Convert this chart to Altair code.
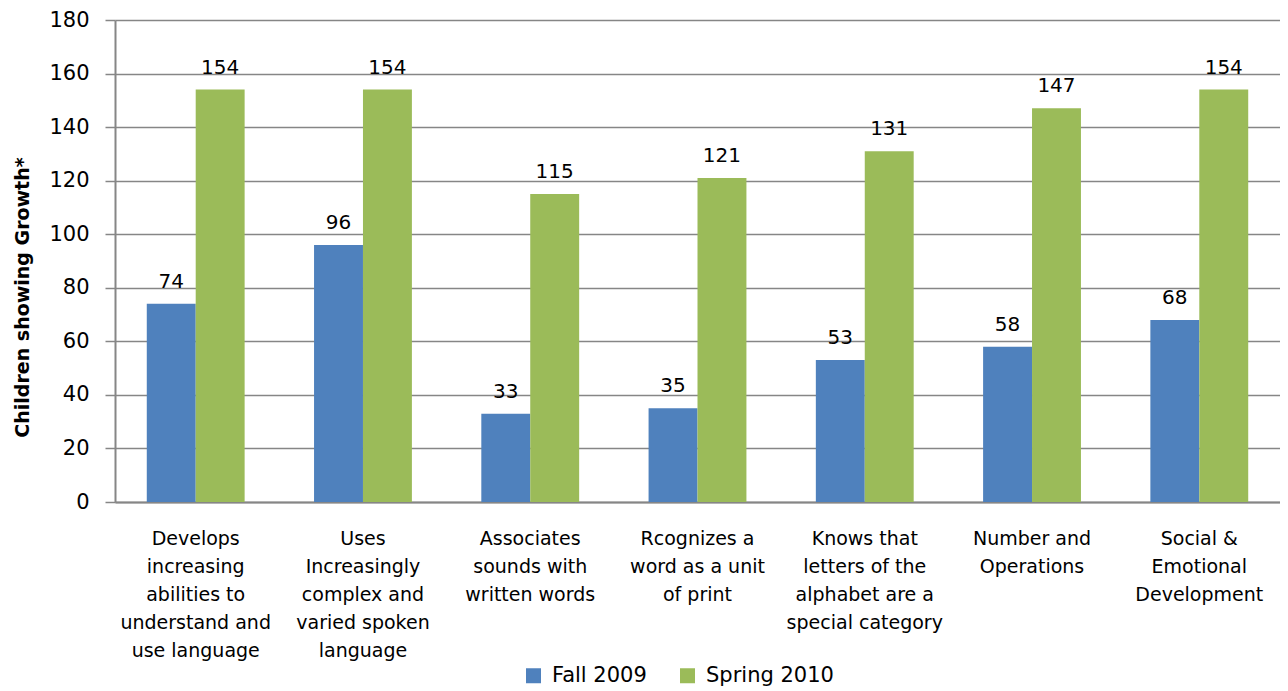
import altair as alt
import pandas as pd

categories = [
    "Develops|increasing|abilities to|understand and|use language",
    "Uses|Increasingly|complex and|varied spoken|language",
    "Associates|sounds with|written words",
    "Rcognizes a|word as a  unit|of print",
    "Knows that|letters of the|alphabet are a|special category",
    "Number and|Operations",
    "Social &|Emotional|Development",
]
series = ["Fall 2009", "Spring 2010"]
fall_2009 = [74, 96, 33, 35, 53, 58, 68]
spring_2010 = [154, 154, 115, 121, 131, 147, 154]
colors = ["#4F81BD", "#9BBB59"]

rows = []
for c, f, s in zip(categories, fall_2009, spring_2010):
    rows.append({"category": c, "series": series[0], "value": f})
    rows.append({"category": c, "series": series[1], "value": s})
df = pd.DataFrame(rows)

FONT = "DejaVu Sans"

base = alt.Chart(df).encode(
    x=alt.X(
        "category:N",
        sort=categories,
        scale=alt.Scale(paddingInner=0.415, paddingOuter=0.19),
        axis=alt.Axis(
            title=None,
            labelAngle=0,
            labelExpr="split(datum.label, '|')",
            labelFontSize=19,
            labelLineHeight=28,
            labelPadding=27,
            labelBaseline="top",
            ticks=False,
            domainColor="#868686",
            domainWidth=2,
            labelColor="#000000",
            labelFont=FONT,
        ),
    ),
    xOffset=alt.XOffset("series:N", sort=series, scale=alt.Scale(paddingInner=0, paddingOuter=0)),
    y=alt.Y(
        "value:Q",
        scale=alt.Scale(domain=[0, 180]),
        axis=alt.Axis(
            title="Children showing Growth*",
            values=list(range(0, 181, 20)),
            grid=True,
            gridColor="#868686",
            gridWidth=1.5,
            domainColor="#868686",
            domainWidth=2,
            tickColor="#868686",
            tickSize=10,
            tickWidth=1.5,
            labelFontSize=21,
            labelPadding=16,
            labelColor="#000000",
            labelFont=FONT,
            titleFont=FONT,
            titleFontSize=19,
            titleFontWeight="bold",
            titleColor="#000000",
            titleX=-93,
            titleY=277,
            titleAngle=-90,
            titleBaseline="middle",
            titleAlign="center",
        ),
    ),
)

bars = base.mark_bar().encode(
    color=alt.Color(
        "series:N",
        sort=series,
        scale=alt.Scale(domain=series, range=colors),
        legend=alt.Legend(
            title=None,
            orient="none",
            direction="horizontal",
            legendX=408,
            legendY=645,
            symbolType="square",
            symbolSize=225,
            symbolStrokeWidth=0,
            symbolOpacity=1,
            labelFontSize=21,
            labelFont=FONT,
            labelColor="#000000",
            labelOffset=8,
            columnPadding=30,
            padding=0,
        ),
    )
)

labels = base.mark_text(
    baseline="alphabetic", dy=-16, fontSize=20, font=FONT, color="#000000"
).encode(text="value:Q")

chart = (
    alt.layer(bars, labels)
    .properties(
        width=1165,
        height=482,
        autosize=alt.AutoSizeParams(type="none"),
        padding={"left": 107, "top": 12, "right": 0, "bottom": 186},
    )
    .configure_view(stroke=None)
)

chart.save("out.html", embed_options={"renderer": "svg", "actions": False})
